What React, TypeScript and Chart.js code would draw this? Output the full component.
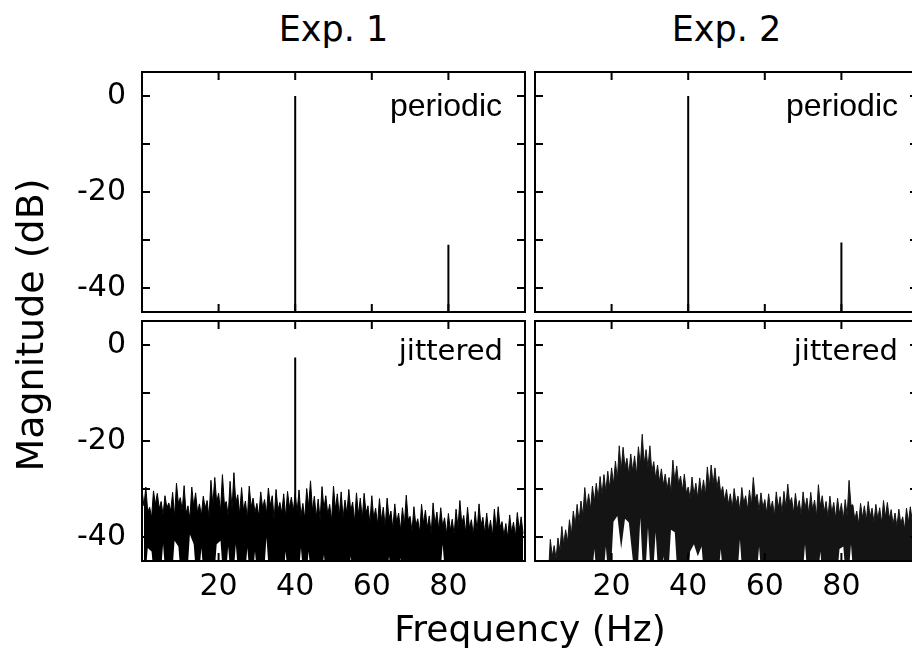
import React, { useEffect, useRef } from 'react';
import { Chart, registerables } from 'chart.js';
Chart.register(...registerables);

// ---------- axes ----------
const xTicks = [20, 40, 60, 80];
const yTicks = [-40, -30, -20, -10, 0];
const yLabelTicks = [-40, -20, 0];
const X_MIN = 0, X_MAX = 100, Y_MIN = -45, Y_MAX = 5;
const OFF_AXIS = -60; // baseline below the visible range for spikes

// ---------- periodic spectra (spikes) ----------
const periodicFreqs = [40, 80];
const exp1PeriodicDb = [0, -31];
const exp2PeriodicDb = [0, -30.5];

// ---------- jittered spectra ----------
const exp1JitterSpikeFreqs = [40];
const exp1JitterSpikeDb = [-2.6];

// per-Hz local maxima of the jittered spectrum (Exp. 1)
const exp1JitPeaks = [
  -30.2, -29.6, -33.8, -30.4, -30.9, -32.6, -31.4, -32.9, -30.7, -28.8,
  -31.8, -29.3, -33.5, -29.6, -30.8, -33.1, -31.5, -32.4, -28.2, -27.6,
  -30.9, -27.0, -32.6, -28.4, -26.6, -31.2, -29.7, -32.5, -29.4, -31.9,
  -33.0, -30.6, -32.2, -29.8, -31.4, -30.1, -32.8, -31.0, -30.5, -31.7,
  -31.0, -30.2, -33.0, -29.9, -28.3, -31.5, -32.1, -29.5, -31.4, -33.2,
  -29.4, -31.0, -30.6, -32.3, -30.1, -32.7, -30.8, -31.9, -30.9, -33.5,
  -31.4, -34.0, -32.0, -33.8, -31.9, -34.6, -33.1, -35.0, -33.9, -31.3,
  -35.7, -33.7, -36.2, -33.2, -34.4, -35.6, -32.9, -34.8, -33.9, -36.0,
  -35.1, -36.3, -34.2, -32.4, -35.5, -33.8, -36.4, -34.7, -33.1, -35.9,
  -35.0, -36.5, -34.2, -33.7, -36.8, -37.2, -35.4, -36.9, -34.9, -35.8,
];
// per-Hz local minima of the dense part (Exp. 1)
const exp1JitDips = [
  -33.5, -34.8, -36.0, -33.2, -34.1, -35.4, -33.9, -34.6, -35.8, -33.0,
  -34.4, -35.1, -36.2, -33.6, -34.9, -35.5, -34.0, -35.9, -33.4, -32.8,
  -34.7, -33.1, -35.6, -34.2, -32.9, -35.3, -34.5, -36.1, -33.8, -34.9,
  -35.7, -34.0, -35.2, -33.5, -36.3, -34.4, -35.0, -35.8, -33.9, -34.6,
  -34.8, -35.6, -36.2, -33.7, -34.5, -35.9, -36.4, -34.1, -35.3, -36.6,
  -34.2, -35.7, -36.0, -35.1, -34.6, -36.8, -35.4, -36.2, -35.0, -37.1,
  -36.1, -37.4, -36.5, -37.9, -36.2, -38.3, -37.0, -38.6, -37.5, -36.4,
  -38.8, -37.6, -39.0, -37.2, -38.1, -39.3, -37.4, -38.5, -37.8, -39.4,
  -38.6, -39.5, -38.0, -37.3, -39.1, -38.2, -39.6, -38.7, -37.7, -39.2,
  -38.9, -39.8, -38.4, -38.0, -39.7, -40.1, -39.0, -39.9, -38.6, -39.3,
];
// lower edge of the dense part (Exp. 1); values above -45 are the white slivers at the bottom
const exp1JitFloor = [
  -52, -42.3, -43, -52, -52, -41.5, -52, -52, -40.8, -42,
  -52, -52, -39.5, -41.5, -52, -42.3, -52, -52, -52, -41.5,
  -40.8, -52, -42, -52, -41.5, -52, -52, -42.3, -52, -43,
  -52, -52, -40.1, -52, -52, -52, -52, -43, -52, -52,
  -52, -42.3, -52, -43, -52, -52, -52, -43.7, -52, -52,
  -52, -52, -52, -52, -44, -52, -52, -52, -52, -52,
  -52, -52, -52, -52, -44, -52, -52, -44.3, -52, -52,
  -52, -52, -52, -52, -52, -52, -52, -52, -41.5, -52,
  -52, -52, -52, -52, -52, -52, -52, -52, -52, -52,
  -52, -52, -52, -52, -52, -52, -52, -52, -52, -52,
];

// Exp. 2
const exp2JitPeaks = [
  -47, -47, -46, -45.5, -40.5, -41.8, -40.2, -37.8, -38.5, -36.4,
  -34.6, -33.2, -32.5, -29.7, -31.0, -29.4, -28.8, -27.4, -27.0, -26.3,
  -25.6, -24.2, -21.0, -21.3, -23.6, -22.7, -23.1, -21.2, -18.6, -21.8,
  -21.0, -24.3, -25.0, -25.8, -26.9, -27.6, -24.0, -25.2, -27.3, -26.9,
  -29.6, -27.5, -28.8, -27.7, -28.1, -25.4, -25.0, -25.6, -27.4, -29.5,
  -30.1, -31.0, -29.9, -31.5, -29.7, -31.4, -30.2, -27.6, -31.1, -30.8,
  -32.2, -31.0, -32.5, -30.6, -31.6, -30.5, -29.0, -31.8, -30.9, -32.4,
  -30.6, -31.9, -30.7, -32.3, -29.1, -31.4, -32.6, -31.5, -32.8, -31.9,
  -33.0, -32.2, -28.2, -33.3, -34.6, -33.0, -33.5, -32.6, -34.0, -33.2,
  -33.9, -32.4, -32.8, -34.3, -35.0, -34.2, -35.8, -34.0, -33.7, -35.1,
];
const exp2JitDips = [
  -48, -48, -48, -48, -44, -44.5, -43, -41.5, -41, -39.5,
  -37.5, -36.8, -35.5, -34.0, -34.2, -32.6, -32.0, -31.2, -30.5, -29.8,
  -29.0, -28.0, -26.2, -25.5, -27.0, -26.3, -27.1, -25.0, -24.8, -25.6,
  -26.4, -27.8, -28.5, -29.2, -30.0, -30.6, -28.4, -29.0, -30.3, -30.8,
  -32.0, -31.2, -31.9, -31.0, -31.3, -29.6, -29.0, -29.8, -31.0, -32.4,
  -33.2, -34.0, -33.1, -34.6, -33.0, -34.3, -33.5, -32.0, -34.5, -33.9,
  -35.0, -34.2, -35.6, -34.0, -34.9, -33.8, -33.0, -35.0, -34.3, -35.5,
  -34.1, -35.2, -34.4, -35.7, -33.6, -34.8, -35.9, -35.0, -36.1, -35.2,
  -36.3, -35.6, -33.4, -36.4, -37.3, -36.0, -36.6, -35.8, -37.0, -36.3,
  -37.1, -35.9, -36.2, -37.4, -37.9, -37.2, -38.4, -37.0, -36.8, -38.0,
];
// lower edge of the dense part (Exp. 2); the white hole near 20-26 Hz sits above -45
const exp2JitFloor = [
  -52, -52, -52, -52, -52, -52, -52, -52, -52, -52,
  -52, -52, -52, -52, -52, -42.5, -52, -52, -42, -52,
  -36.8, -35.6, -42.5, -36.2, -37.0, -44.5, -52, -36, -52, -38,
  -52, -39, -52, -44, -52, -38.5, -39, -52, -52, -52,
  -43, -41.5, -44, -42, -52, -52, -52, -52, -42.5, -52,
  -52, -52, -52, -40.5, -52, -52, -52, -52, -42, -52,
  -52, -52, -52, -52, -52, -52, -52, -52, -52, -52,
  -41.5, -52, -52, -52, -43, -52, -52, -52, -52, -42.5,
  -42, -52, -41.5, -52, -52, -52, -52, -52, -52, -52,
  -52, -52, -52, -52, -52, -52, -52, -52, -52, -52,
];

// ---------- builders ----------
function spikeLine(freqs: number[], dbs: number[]) {
  const pts: { x: number; y: number }[] = [];
  freqs.forEach((f, i) => {
    pts.push({ x: f, y: OFF_AXIS }, { x: f, y: dbs[i] }, { x: f, y: OFF_AXIS });
  });
  return pts;
}
function zigzag(peaks: number[], dips: number[]) {
  const pts: { x: number; y: number }[] = [];
  peaks.forEach((p, i) => {
    pts.push({ x: i, y: p }, { x: i + 0.5, y: dips[i] });
  });
  return pts;
}
function floorLine(fl: number[]) {
  return fl.map((v, i) => ({ x: i + 0.5, y: v }));
}

function spikeDataset(freqs: number[], dbs: number[]) {
  return {
    data: spikeLine(freqs, dbs),
    borderColor: '#000',
    borderWidth: 2,
    pointRadius: 0,
    fill: false,
  };
}
function noiseDatasets(peaks: number[], dips: number[], floor: number[], color: string) {
  return [
    {
      data: zigzag(peaks, dips),
      borderColor: color,
      borderWidth: 1,
      backgroundColor: color,
      pointRadius: 0,
      fill: '+1',
    },
    {
      data: floorLine(floor),
      borderColor: 'rgba(0,0,0,0)',
      borderWidth: 1,
      pointRadius: 0,
      fill: false,
    },
  ];
}

// ---------- frame plugin (box + inward ticks on all sides) ----------
const framePlugin = {
  id: 'frame',
  afterDraw(chart: any) {
    const { ctx, chartArea: a, scales } = chart;
    const x = scales.x, y = scales.y;
    const L = 8;
    ctx.save();
    ctx.strokeStyle = '#000';
    ctx.lineWidth = 2;
    ctx.strokeRect(a.left, a.top, a.right - a.left, a.bottom - a.top);
    ctx.beginPath();
    x.ticks.forEach((t: any) => {
      const px = x.getPixelForValue(t.value);
      ctx.moveTo(px, a.top); ctx.lineTo(px, a.top + L);
      ctx.moveTo(px, a.bottom); ctx.lineTo(px, a.bottom - L);
    });
    y.ticks.forEach((t: any) => {
      const py = y.getPixelForValue(t.value);
      ctx.moveTo(a.left, py); ctx.lineTo(a.left + L, py);
      ctx.moveTo(a.right, py); ctx.lineTo(a.right - L, py);
    });
    ctx.stroke();
    ctx.restore();
  },
};

const AX_W = 80, AX_H = 60, PAD_T = 12, PAD_R = 12;
const TICK_FONT = { family: 'DejaVu Sans', size: 30 };

function Panel(props: {
  left: number; top: number; right: number; bottom: number;
  showX: boolean; showY: boolean; datasets: any[];
}) {
  const ref = useRef<HTMLCanvasElement>(null);
  const { left, top, right, bottom, showX, showY, datasets } = props;
  const cw = right - left + AX_W + PAD_R;
  const ch = bottom - top + PAD_T + AX_H;
  useEffect(() => {
    const zeroPad = (s: any) => {
      s.paddingTop = 0; s.paddingBottom = 0; s.paddingLeft = 0; s.paddingRight = 0;
    };
    const chart = new Chart(ref.current as HTMLCanvasElement, {
      type: 'line',
      data: { datasets },
      options: {
        animation: false,
        responsive: false,
        devicePixelRatio: 1,
        events: [],
        layout: { padding: { top: PAD_T, right: PAD_R, left: 0, bottom: 0 } },
        plugins: { legend: { display: false }, tooltip: { enabled: false } },
        elements: { point: { radius: 0 }, line: { tension: 0 } },
        scales: {
          x: {
            type: 'linear',
            min: X_MIN,
            max: X_MAX,
            afterBuildTicks: (s: any) => { s.ticks = xTicks.map((v) => ({ value: v })); },
            afterFit: (s: any) => { s.height = AX_H; zeroPad(s); },
            grid: { display: false, drawTicks: false },
            border: { display: false },
            ticks: {
              autoSkip: false, maxRotation: 0, padding: 8, color: '#000', font: TICK_FONT,
              callback: (v: any) => (showX ? String(v) : ''),
            },
          },
          y: {
            type: 'linear',
            min: Y_MIN,
            max: Y_MAX,
            afterBuildTicks: (s: any) => { s.ticks = yTicks.map((v) => ({ value: v })); },
            afterFit: (s: any) => { s.width = AX_W; zeroPad(s); },
            grid: { display: false, drawTicks: false },
            border: { display: false },
            ticks: {
              autoSkip: false, padding: 16, color: '#000', font: TICK_FONT,
              callback: (v: any) => (showY && yLabelTicks.includes(Number(v)) ? String(v) : ''),
            },
          },
        },
      } as any,
      plugins: [framePlugin],
    } as any);
    return () => chart.destroy();
  }, []);
  return (
    <canvas
      ref={ref}
      width={cw}
      height={ch}
      style={{ position: 'absolute', left: left - AX_W, top: top - PAD_T, width: cw, height: ch }}
    />
  );
}

function Text(props: { text: string; x: number; baseline: number; size: number; family: string; align: 'center' | 'right' }) {
  const { text, x, baseline, size, family, align } = props;
  const W = 600;
  return (
    <div
      style={{
        position: 'absolute',
        left: align === 'center' ? x - W / 2 : x - W,
        top: baseline - 0.846 * size,
        width: W,
        textAlign: align,
        fontFamily: family,
        fontSize: size,
        lineHeight: `${size}px`,
        whiteSpace: 'nowrap',
        color: '#000',
      }}
    >
      {text}
    </div>
  );
}

export default function App() {
  const c1 = '#000';
  const c2 = '#141414';
  useEffect(() => {
    document.body.style.margin = '0';
    document.body.style.overflow = 'hidden';
  }, []);
  return (
    <div style={{ position: 'fixed', left: 0, top: 0, width: 912, height: 663, overflow: 'hidden', background: '#fff' }}>
      <Panel left={142} top={72} right={525} bottom={312} showX={false} showY={true}
        datasets={[spikeDataset(periodicFreqs, exp1PeriodicDb)]} />
      <Panel left={535} top={72} right={918} bottom={312} showX={false} showY={false}
        datasets={[spikeDataset(periodicFreqs, exp2PeriodicDb)]} />
      <Panel left={142} top={321} right={525} bottom={561} showX={true} showY={true}
        datasets={[...noiseDatasets(exp1JitPeaks, exp1JitDips, exp1JitFloor, c1), spikeDataset(exp1JitterSpikeFreqs, exp1JitterSpikeDb)]} />
      <Panel left={535} top={321} right={918} bottom={561} showX={true} showY={false}
        datasets={noiseDatasets(exp2JitPeaks, exp2JitDips, exp2JitFloor, c2)} />

      <Text text="Exp. 1" x={333.5} baseline={41.7} size={35} family="DejaVu Sans" align="center" />
      <Text text="Exp. 2" x={726.5} baseline={41.7} size={35} family="DejaVu Sans" align="center" />
      <Text text="periodic" x={502} baseline={116} size={32} family="Liberation Sans" align="right" />
      <Text text="periodic" x={898} baseline={116} size={32} family="Liberation Sans" align="right" />
      <Text text="jittered" x={503} baseline={361} size={29} family="DejaVu Sans" align="right" />
      <Text text="jittered" x={898} baseline={361} size={29} family="DejaVu Sans" align="right" />
      <Text text="Frequency (Hz)" x={530} baseline={641.7} size={36} family="DejaVu Sans" align="center" />
      <div
        style={{
          position: 'absolute',
          left: 30 - 300,
          top: 325 - 19,
          width: 600,
          height: 38,
          lineHeight: '38px',
          fontSize: 38,
          fontFamily: 'DejaVu Sans',
          textAlign: 'center',
          whiteSpace: 'nowrap',
          transform: 'rotate(-90deg)',
          color: '#000',
        }}
      >
        Magnitude (dB)
      </div>
    </div>
  );
}
